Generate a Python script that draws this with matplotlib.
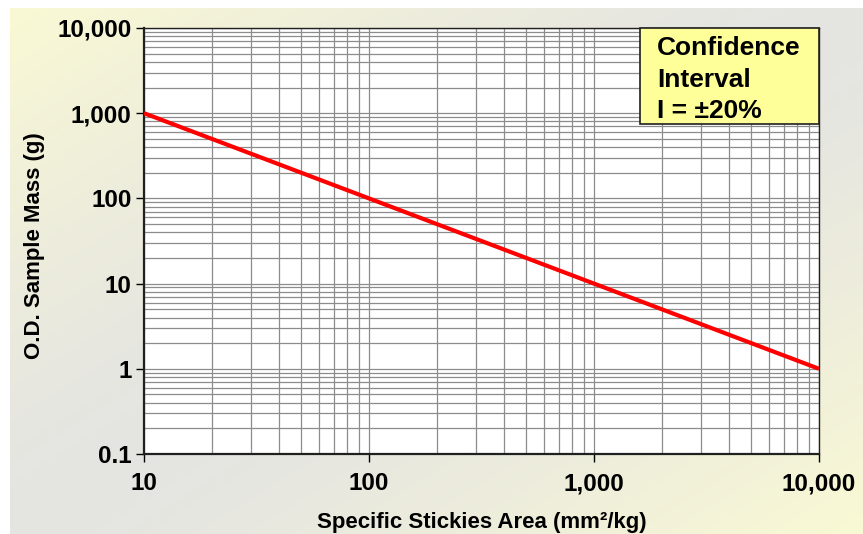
import numpy as np
import matplotlib

matplotlib.use("Agg")
import matplotlib.pyplot as plt
from matplotlib.patches import Rectangle
from matplotlib.ticker import FixedLocator, LogLocator, NullFormatter

plt.rcParams["font.family"] = ["Liberation Sans", "DejaVu Sans"]
plt.rcParams["font.weight"] = "bold"

# data: required O.D. sample mass for a +/-20% confidence interval
area = [10, 100, 1000, 10000]          # mm²/kg
mass = [1000, 100, 10, 1]              # g
xticks = [10, 100, 1000, 10000]
xlabels = ["10", "100", "1,000", "10,000"]
yticks = [0.1, 1, 10, 100, 1000, 10000]
ylabels = ["0.1", "1", "10", "100", "1,000", "10,000"]
note = ["Confidence", "Interval", "I = \u00b120%"]

fig = plt.figure(figsize=(8.63, 5.34), dpi=100)
fig.patch.set_facecolor("white")

# gradient background: cream -> light grey -> cream along the diagonal
bg = fig.add_axes([10 / 863, 0, 853 / 863, 526 / 534])
bg.axis("off")
yy, xx = np.mgrid[0:1:200j, 0:1:300j]
t = (xx + yy) / 2
s = np.abs(t - 0.5) * 2
cream = np.array([250, 249, 212]) / 255
grey = np.array([228, 228, 226]) / 255
img = grey + (cream - grey) * s[..., None] ** 1.3
bg.imshow(img, aspect="auto", extent=[0, 1, 0, 1], origin="upper")

ax = fig.add_axes([144 / 863, 1 - 454 / 534, 675 / 863, 426 / 534])
ax.set_facecolor("white")
ax.plot(area, mass, color="#ff0000", lw=3, solid_capstyle="butt", zorder=3)
ax.set_xscale("log")
ax.set_yscale("log")
ax.set_xlim(10, 10000)
ax.set_ylim(0.1, 10000)

ax.xaxis.set_major_locator(FixedLocator(xticks))
ax.set_xticklabels(xlabels)
ax.yaxis.set_major_locator(FixedLocator(yticks))
ax.set_yticklabels(ylabels)
ax.xaxis.set_minor_locator(LogLocator(base=10, subs=np.arange(2, 10)))
ax.yaxis.set_minor_locator(LogLocator(base=10, subs=np.arange(2, 10)))
ax.xaxis.set_minor_formatter(NullFormatter())
ax.yaxis.set_minor_formatter(NullFormatter())

ax.grid(True, which="both", color="#8c8c8c", lw=0.9)
ax.tick_params(which="major", direction="out", length=6, width=1, labelsize=17.5, pad=3)
ax.tick_params(which="minor", length=0)
ax.tick_params(axis="x", pad=7)
for sp in ax.spines.values():
    sp.set_color("#202020")
    sp.set_linewidth(1)
ax.spines["left"].set_linewidth(1.6)
ax.spines["bottom"].set_linewidth(1.6)

ax.set_xlabel("Specific Stickies Area (mm²/kg)", fontsize=16, fontweight="bold", labelpad=12)
ax.set_ylabel("O.D. Sample Mass (g)", fontsize=16, fontweight="bold")
ax.yaxis.set_label_coords(-0.146, 0.49)

# note box flush with the top-right corner of the plot area
ax.add_patch(Rectangle((0.735, 0.775), 0.265, 0.225, transform=ax.transAxes,
                       facecolor="#ffff99", edgecolor="#202020", lw=1.2, zorder=5, clip_on=False))
for line, yb in zip(note, [0.9366, 0.8615, 0.7887]):
    ax.text(0.760, yb, line, transform=ax.transAxes, ha="left", va="baseline",
            fontsize=19, fontweight="bold", zorder=6)

fig.savefig("out.png", dpi=100, facecolor="white")
